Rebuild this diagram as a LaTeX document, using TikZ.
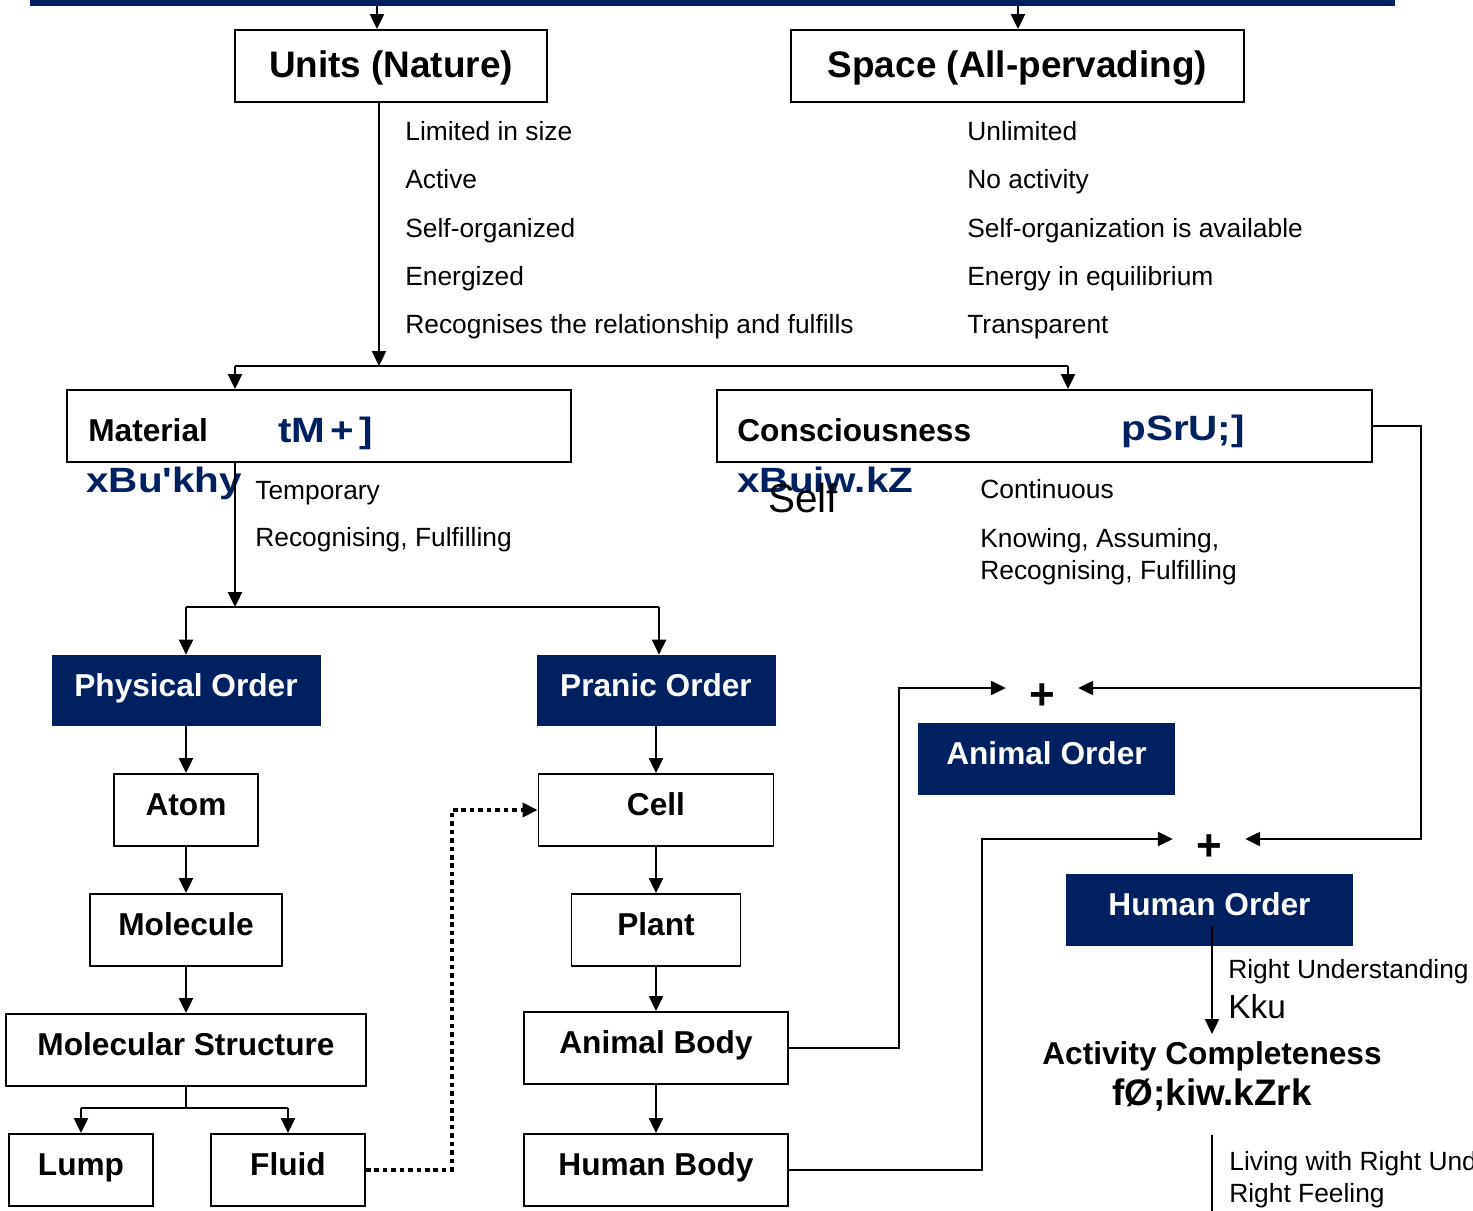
\documentclass[tikz,border=0pt]{standalone}
\usepackage{fontspec}
\setmainfont{Liberation Sans}
\newfontfamily\krfont{Liberation Sans}[FakeStretch=1.15]
\usetikzlibrary{arrows.meta}
\definecolor{navy}{RGB}{0,32,96}

\begin{document}
\begin{tikzpicture}
  [box/.style={draw,line width=1.1pt,minimum height=1.44cm,inner sep=0pt,text height=11pt,text depth=4.2pt,font=\fontsize{18}{22}\selectfont\bfseries},
   head/.style={box,text height=15.5pt,text depth=2.7pt,font=\fontsize{21}{25}\selectfont\bfseries},
   order/.style={fill=navy,text=white,minimum height=1.42cm,inner sep=0pt,text height=11pt,text depth=4.2pt,font=\fontsize{18}{22}\selectfont\bfseries},
   txt/.style={anchor=base west,inner sep=0pt,font=\fontsize{15}{18}\selectfont},
   lbl/.style={anchor=base west,inner sep=0pt,font=\fontsize{18}{22}\selectfont\bfseries},
   hin/.style={anchor=base west,inner sep=0pt,text=navy,font=\krfont\fontsize{20}{24}\selectfont\bfseries},
   plus/.style={inner xsep=0.46cm,inner ysep=0pt,text height=25pt,text depth=0pt,font=\fontsize{25}{30}\selectfont\bfseries},
   conn/.style={line width=1.1pt},
   >={Triangle[length=8.5pt,width=8pt]}]
  \useasboundingbox (0,0) rectangle (29.46,-24.22);
  \clip (0,0) rectangle (29.46,-24.22);
  % top bar
  \fill[navy] (0.60,0) rectangle (27.90,-0.12);
  \coordinate (bar1) at (7.54,-0.12);
  \coordinate (bar2) at (20.36,-0.12);

  \node[head,minimum width=6.24cm,name=units] at (7.82,-1.32) {Units (Nature)};
  \node[head,minimum width=9.06cm,name=space] at (20.35,-1.32) {Space (All-pervading)};
  \draw[conn,->](bar1)--(bar1 |- units.north);
  \draw[conn,->](bar2)--(bar2 |- space.north);

  % properties
  \node[txt,name=u1] at (8.10,-2.82) {Limited in size};
  \node[txt,name=u2] at (8.10,-3.78) {Active};
  \node[txt,name=u3] at (8.10,-4.74) {Self-organized};
  \node[txt,name=u4] at (8.10,-5.70) {Energized};
  \node[txt,name=u5] at (8.10,-6.66) {Recognises the relationship and fulfills};
  \node[txt,name=s1] at (19.34,-2.82) {Unlimited};
  \node[txt,name=s2] at (19.34,-3.78) {No activity};
  \node[txt,name=s3] at (19.34,-4.74) {Self-organization is available};
  \node[txt,name=s4] at (19.34,-5.70) {Energy in equilibrium};
  \node[txt,name=s5] at (19.34,-6.66) {Transparent};

  % material / consciousness
  \node[box,minimum width=10.08cm,name=mat] at (6.38,-8.52) {};
  \node[box,minimum width=13.10cm,name=cons] at (20.89,-8.52) {};
  \node[lbl,name=matlbl] at (1.76,-8.82) {Material};
  \node[hin,name=mathin] at (5.56,-8.84) {tM\hspace{3pt}+\hspace{3pt}]};
  \node[lbl,name=conslbl] at (14.74,-8.82) {Consciousness};
  \node[hin,name=conshin] at (22.42,-8.80) {pSrU;]};
  \node[hin,name=matsub] at (1.72,-9.84) {xBu'khy};
  \node[hin,name=conssub] at (14.74,-9.84) {xBuiw.kZ};
  \node[anchor=base west,inner sep=0pt,font=\fontsize{23}{27}\selectfont,name=self] at (15.36,-10.24) {Self};
  \node[txt,name=m1] at (5.10,-9.98) {Temporary};
  \node[txt,name=m2] at (5.10,-10.92) {Recognising, Fulfilling};
  \node[txt,name=c1] at (19.60,-9.96) {Continuous};
  \node[txt,name=c2] at (19.60,-10.94) {Knowing, Assuming,};
  \node[txt,name=c3] at (19.60,-11.58) {Recognising, Fulfilling};

  \coordinate (split1) at (7.58,-7.32);
  \coordinate (s1l) at (4.70,-7.32);
  \coordinate (s1r) at (21.36,-7.32);
  \draw[conn,->](split1 |- units.south)--(split1);
  \draw[conn](s1l)--(s1r);
  \draw[conn,->](s1l)--(s1l |- mat.north);
  \draw[conn,->](s1r)--(s1r |- cons.north);

  % physical and pranic
  \node[order,minimum width=5.38cm,name=phys] at (3.72,-13.81) {Physical Order};
  \node[order,minimum width=4.78cm,name=pran] at (13.12,-13.81) {Pranic Order};
  \coordinate (split2) at (4.70,-12.14);
  \coordinate (s2l) at (3.72,-12.14);
  \coordinate (s2r) at (13.18,-12.14);
  \draw[conn,->](split2 |- mat.south)--(split2);
  \draw[conn](s2l)--(s2r);
  \draw[conn,->](s2l)--(s2l |- phys.north);
  \draw[conn,->](s2r)--(s2r |- pran.north);

  \node[box,minimum width=2.88cm,name=atom] at (3.72,-16.20) {Atom};
  \node[box,minimum width=3.84cm,name=mol] at (3.72,-18.60) {Molecule};
  \node[box,minimum width=7.20cm,name=ms] at (3.72,-21.00) {Molecular Structure};
  \node[box,minimum width=2.88cm,name=lump] at (1.62,-23.40) {Lump};
  \node[box,minimum width=3.08cm,name=fluid] at (5.76,-23.40) {Fluid};
  \draw[conn,->](phys)--(atom);
  \draw[conn,->](atom)--(mol);
  \draw[conn,->](mol)--(ms);
  \coordinate (split3) at (3.72,-22.16);
  \coordinate (s3l) at (1.62,-22.16);
  \coordinate (s3r) at (5.76,-22.16);
  \draw[conn](ms)--(split3);
  \draw[conn](s3l)--(s3r);
  \draw[conn,->](s3l)--(lump);
  \draw[conn,->](s3r)--(fluid);

  \node[box,minimum width=4.70cm,name=cell] at (13.12,-16.20) {Cell};
  \node[box,minimum width=3.38cm,name=plant] at (13.12,-18.60) {Plant};
  \node[box,minimum width=5.28cm,name=abody] at (13.12,-20.96) {Animal Body};
  \node[box,minimum width=5.28cm,name=hbody] at (13.12,-23.40) {Human Body};
  \draw[conn,->](pran)--(cell);
  \draw[conn,->](cell)--(plant);
  \draw[conn,->](plant)--(abody);
  \draw[conn,->](abody)--(hbody);
  \draw[conn,->,line width=2pt,dash pattern=on 2.6pt off 2.2pt](fluid.east)--++(1.72,0)|-(cell.west);

  % animal and human order
  \node[plus,name=plus1] at (20.84,-13.76) {+};
  \node[plus,name=plus2] at (24.18,-16.78) {+};
  \node[order,minimum width=5.14cm,minimum height=1.44cm,name=aord] at (20.93,-15.18) {Animal Order};
  \node[order,minimum width=5.74cm,minimum height=1.44cm,name=hord] at (24.19,-18.20) {Human Order};
  \draw[conn,->](abody.east)--++(2.20,0)|-(plus1.west);
  \draw[conn,->](hbody.east)--++(3.86,0)|-(plus2.west);
  \draw[conn,->](cons.east)--++(0.96,0)|-(plus2.east);
  \coordinate (jn) at (28.40,-13.76);
  \draw[conn,->](jn)--(plus1.east);

  \coordinate (hstem) at (24.24,-18.52);
  \coordinate (hend) at (24.24,-20.68);
  \draw[conn,->](hstem)--(hend);
  \node[txt,name=ru] at (24.56,-19.56) {Right Understanding};
  \node[anchor=base west,inner sep=0pt,font=\fontsize{19}{23}\selectfont,name=kku] at (24.56,-20.36) {Kku};
  \node[anchor=base,inner sep=0pt,font=\fontsize{18}{22}\selectfont\bfseries,name=act] at (24.24,-21.28) {Activity Completeness};
  \node[anchor=base,inner sep=0pt,font=\fontsize{21}{25}\selectfont\bfseries,name=acthin] at (24.24,-22.10) {fØ;kiw.kZrk};
  \coordinate (lv1) at (24.24,-22.70);
  \coordinate (lv2) at (24.24,-24.30);
  \draw[conn](lv1)--(lv2);
  \node[txt,name=lv] at (24.58,-23.40) {Living with Right Understanding};
  \node[txt,name=rf] at (24.58,-24.04) {Right Feeling};
\end{tikzpicture}
\end{document}
